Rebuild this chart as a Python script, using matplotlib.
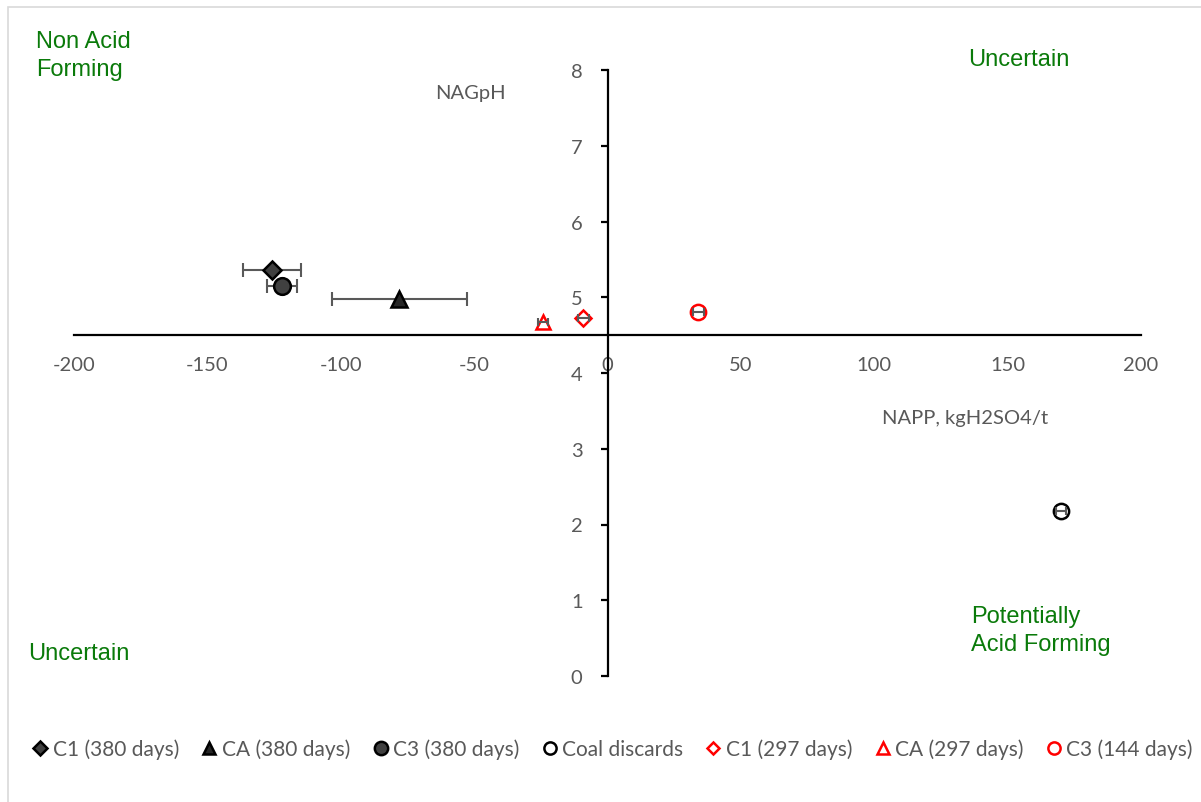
import matplotlib.pyplot as plt
from matplotlib.patches import Rectangle

# NAPP (kg H2SO4/t) vs NAG pH for each sample, with NAPP error half-widths
labels = ['C1 (380 days)', 'CA (380 days)', 'C3 (380 days)', 'Coal discards',
          'C1 (297 days)', 'CA (297 days)', 'C3 (144 days)']
napp = [-125.8, -78.0, -122.0, 170.0, -9.0, -24.2, 34.0]
nagph = [5.36, 4.98, 5.15, 2.18, 4.73, 4.67, 4.80]
napp_err = [11.0, 25.3, 5.5, 2.0, 2.0, 2.0, 2.0]

markers = ['D', '^', 'o', 'o', 'D', '^', 'o']
faces = ['#404040', '#262626', '#404040', 'none', 'none', 'none', 'none']
edges = ['black', 'black', 'black', 'black', 'red', 'red', 'red']
sizes = [9, 11, 12, 11, 8, 10, 11]

x_ticks = [-200, -150, -100, -50, 0, 50, 100, 150, 200]
y_ticks = [0, 1, 2, 3, 4, 5, 6, 7, 8]

plt.rcParams['font.family'] = ['Lato', 'DejaVu Sans']
plt.rcParams['axes.unicode_minus'] = False
grey = '#595959'
green = '#0a7a0a'

fig = plt.figure(figsize=(12.01, 8.03), dpi=100)
ax = fig.add_axes([74 / 1201, 126 / 803, 1067 / 1201, 606 / 803])

for i in range(len(labels)):
    ax.plot(napp[i], nagph[i], linestyle='none', marker=markers[i],
            markersize=sizes[i], markerfacecolor=faces[i],
            markeredgecolor=edges[i], markeredgewidth=1.8, label=labels[i], zorder=3)
    # the big error bars sit behind the filled markers, the tiny ones show through the hollow ones
    ax.errorbar(napp[i], nagph[i], xerr=napp_err[i], fmt='none',
                ecolor=grey, elinewidth=1.5, capsize=5 if i < 3 else 3, capthick=1.5,
                zorder=2 if i < 3 else 4)

ax.set_xlim(-200, 200)
ax.set_ylim(0, 8)
ax.set_xticks(x_ticks)
ax.set_yticks(y_ticks)

# axes cross at NAPP = 0 and NAGpH = 4.5
ax.spines['left'].set_position(('data', 0))
ax.spines['bottom'].set_position(('data', 4.5))
ax.spines['right'].set_visible(False)
ax.spines['top'].set_visible(False)
ax.spines['left'].set_linewidth(1.6)
ax.spines['bottom'].set_linewidth(1.6)

ax.tick_params(axis='x', length=0, pad=15, labelsize=14.5, labelcolor=grey)
ax.tick_params(axis='y', direction='out', length=5, width=1.6,
               pad=13, labelsize=14.5, labelcolor=grey)

# axis titles
fig.text(965 / 1201, 1 - 419 / 803, 'NAPP, kgH2SO4/t', fontsize=14.5,
         color=grey, ha='center', va='center')
fig.text(470 / 1201, 1 - 93 / 803, 'NAGpH', fontsize=14.5,
         color=grey, ha='center', va='center')

# quadrant labels
txt = dict(fontsize=17, color=green, family=['Liberation Sans', 'DejaVu Sans'],
           linespacing=1.3, ha='left', va='center')
fig.text(36 / 1201, 1 - 56 / 803, 'Non Acid\nForming', **txt)
fig.text(968 / 1201, 1 - 60 / 803, 'Uncertain', **txt)
fig.text(28 / 1201, 1 - 654 / 803, 'Uncertain', **txt)
fig.text(971 / 1201, 1 - 631 / 803, 'Potentially\nAcid Forming', **txt)

ax.legend(loc='center', bbox_to_anchor=(613 / 1201, 1 - 750 / 803),
          bbox_transform=fig.transFigure, ncol=7, frameon=False, fontsize=15,
          labelcolor=grey, handlelength=0.7, handletextpad=0.25,
          columnspacing=1.1, markerscale=0.8)

# light chart-area border
fig.patches.append(Rectangle((8 / 1201, -0.01), 1.1, 1 - 8 / 803 + 0.01,
                             transform=fig.transFigure, fill=False,
                             edgecolor='#d9d9d9', linewidth=1.2))

fig.savefig('out.png', dpi=100)
